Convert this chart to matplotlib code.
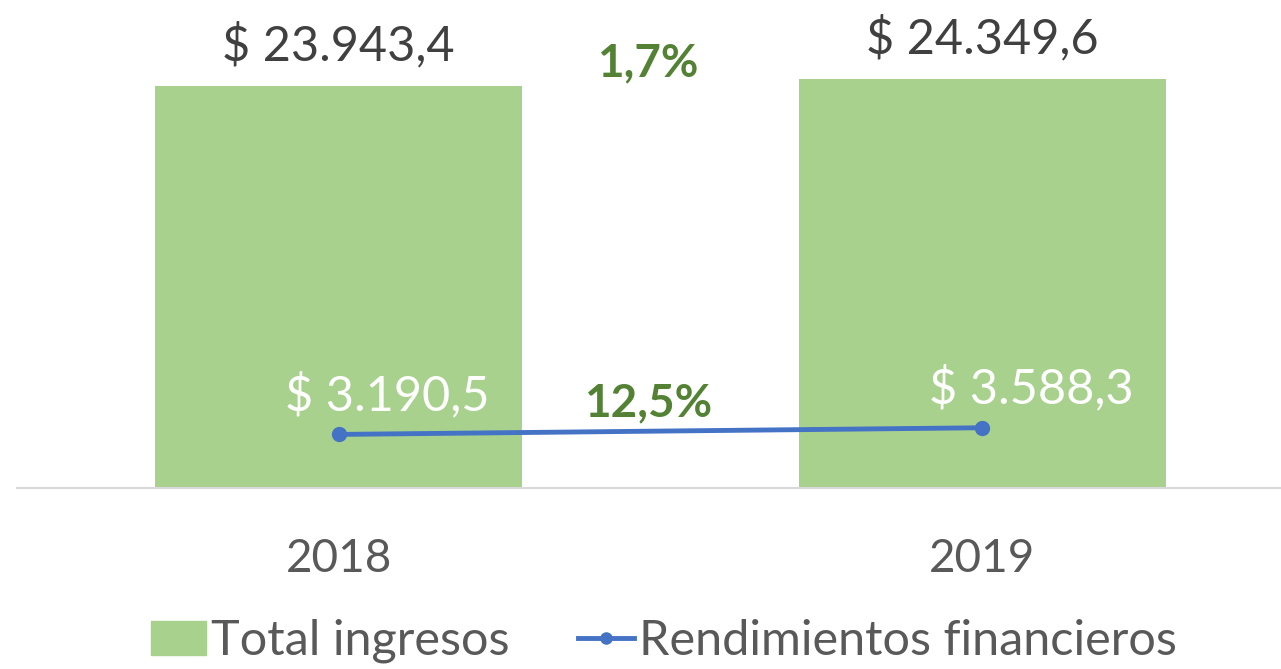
import matplotlib.pyplot as plt
from matplotlib.lines import Line2D
from matplotlib.patches import Patch

plt.rcParams['font.family'] = ['Lato', 'DejaVu Sans']

years = ['2018', '2019']
total_ingresos = [23943.4, 24349.6]
rendimientos = [3190.5, 3588.3]
total_labels = ['$ 23.943,4', '$ 24.349,6']
rend_labels = ['$ 3.190,5', '$ 3.588,3']
var_total = '1,7%'
var_rend = '12,5%'

bar_color = '#A9D18E'
line_color = '#4472C4'
green_text = '#548235'

fig = plt.figure(figsize=(12.81, 6.69), dpi=100)
ax = fig.add_axes([17 / 1281, 1 - 488 / 669, 1287 / 1281, 488 / 669])

x = range(len(years))
ax.bar(x, total_ingresos, width=0.57, color=bar_color, zorder=2)
ax.plot(x, rendimientos, color=line_color, linewidth=3.5, marker='o',
        markersize=10, zorder=3)

ax.set_xlim(-0.5, 1.5)
ax.set_ylim(0, 29065)

# Data labels
for i in x:
    ax.text(i, total_ingresos[i] + 1050, total_labels[i], ha='center',
            va='bottom', fontsize=35, color='#404040')
    ax.text(i + 0.076, rendimientos[i] + 950, rend_labels[i], ha='center',
            va='bottom', fontsize=35, color='white', zorder=4)

# Growth labels
ax.text(0.48, 24050, var_total, ha='center', va='bottom', fontsize=33,
        color=green_text, fontweight='bold')
ax.text(0.48, 3800, var_rend, ha='center', va='bottom', fontsize=33,
        color=green_text, fontweight='bold')

for s in ['top', 'right', 'left']:
    ax.spines[s].set_visible(False)
ax.spines['bottom'].set_color('#D9D9D9')
ax.spines['bottom'].set_linewidth(1.5)
ax.set_yticks([])
ax.set_xticks(list(x))
ax.set_xticklabels(years, fontsize=33, color='#595959')
ax.tick_params(axis='x', length=0, pad=36)

handles = [Patch(color=bar_color),
           Line2D([0], [0], color=line_color, linewidth=3.5, marker='o',
                  markersize=8)]
fig.legend(handles, ['Total ingresos', 'Rendimientos financieros'],
           loc='center', bbox_to_anchor=(0.518, 0.042), ncol=2, frameon=False,
           fontsize=35, labelcolor='#595959', handlelength=1.15,
           handletextpad=0.1, columnspacing=1.4, handleheight=0.7)

fig.savefig('out.png', dpi=100)
